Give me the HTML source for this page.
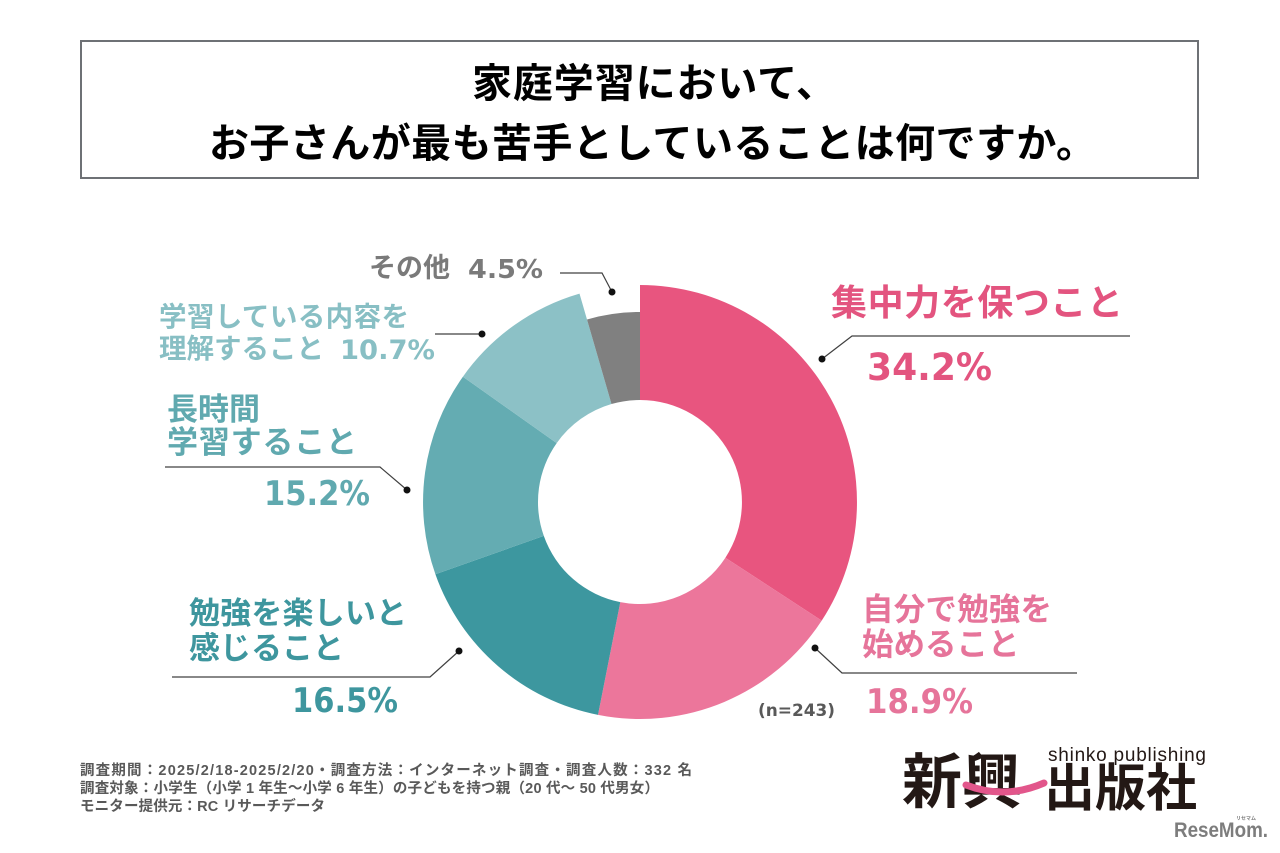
<!DOCTYPE html>
<html><head><meta charset="utf-8"><style>
html,body{margin:0;padding:0;background:#fff;width:1280px;height:853px;overflow:hidden}
svg{display:block}
.cjk{font-family:"Liberation Sans","Noto Sans CJK JP",sans-serif;font-weight:700}
.num{font-family:"DejaVu Sans","Liberation Sans",sans-serif;font-weight:700}
</style></head><body>
<svg width="1280" height="853" viewBox="0 0 1280 853" xmlns="http://www.w3.org/2000/svg">
<rect x="0" y="0" width="1280" height="853" fill="#fff"/>
<!-- title box -->
<rect x="81" y="41" width="1117" height="137" fill="#fff" stroke="#6e7175" stroke-width="2"/>
<text class="cjk" x="472" y="97" font-size="40" fill="#000" textLength="364" lengthAdjust="spacing">家庭学習において、</text>
<text class="cjk" x="209" y="157" font-size="40" fill="#000" textLength="887" lengthAdjust="spacing">お子さんが最も苦手としていることは何ですか。</text>

<!-- donut -->
<path d="M640,285 A217,217 0 0 1 821.7,620.6 L725.4,557.7 A102,102 0 0 0 640,400 Z" fill="#E8557F"/>
<path d="M821.7,620.6 A217,217 0 0 1 598.0,714.9 L620.3,602.1 A102,102 0 0 0 725.4,557.7 Z" fill="#EC769B"/>
<path d="M598.0,714.9 A217,217 0 0 1 435.4,574.2 L543.8,535.9 A102,102 0 0 0 620.3,602.1 Z" fill="#3D979F"/>
<path d="M435.4,574.2 A217,217 0 0 1 462.9,376.7 L556.7,443.1 A102,102 0 0 0 543.8,535.9 Z" fill="#64ACB2"/>
<path d="M462.9,376.7 A217,217 0 0 1 579.5,293.6 L611.5,404.0 A102,102 0 0 0 556.7,443.1 Z" fill="#8CC1C6"/>
<path d="M587.0,319.5 A190,190 0 0 1 640,312 L640,400 A102,102 0 0 0 611.5,404.0 Z" fill="#808080"/>

<!-- leader lines -->
<g stroke="#404040" stroke-width="1.2" fill="none">
<polyline points="822,359 852,336 1130,336"/>
<polyline points="815,648 842,673 1077,673"/>
<polyline points="459,651 430,677 172,677"/>
<polyline points="407,490 380,467 165,467"/>
<polyline points="482,334 435,334"/>
<polyline points="612,292 602,273 560,273"/>
</g>
<g fill="#111">
<circle cx="822" cy="359" r="3.5"/>
<circle cx="815" cy="648" r="3.5"/>
<circle cx="459" cy="651" r="3.5"/>
<circle cx="407" cy="490" r="3.5"/>
<circle cx="482" cy="334" r="3.5"/>
<circle cx="612" cy="292" r="3.5"/>
</g>

<!-- labels -->
<text class="cjk" x="831" y="315" font-size="36" fill="#E3547F" textLength="292" lengthAdjust="spacing">集中力を保つこと</text>
<text class="num" x="867" y="380" font-size="37" fill="#E3547F" textLength="125" lengthAdjust="spacingAndGlyphs">34.2%</text>

<text class="cjk" x="862" y="620" font-size="31.5" fill="#E6749A" textLength="190" lengthAdjust="spacing">自分で勉強を</text>
<text class="cjk" x="862" y="655" font-size="31.5" fill="#E6749A">始めること</text>
<text class="num" x="866" y="713" font-size="34" fill="#E6749A" textLength="107" lengthAdjust="spacingAndGlyphs">18.9%</text>

<text class="cjk" x="189" y="624" font-size="31" fill="#3E969E" textLength="218" lengthAdjust="spacing">勉強を楽しいと</text>
<text class="cjk" x="189" y="659" font-size="31" fill="#3E969E">感じること</text>
<text class="num" x="292" y="712" font-size="34" fill="#3E969E" textLength="106" lengthAdjust="spacingAndGlyphs">16.5%</text>

<text class="cjk" x="167" y="420" font-size="31" fill="#60A9AF">長時間</text>
<text class="cjk" x="167" y="453" font-size="31" fill="#60A9AF" textLength="190" lengthAdjust="spacing">学習すること</text>
<text class="num" x="264" y="505" font-size="34" fill="#60A9AF" textLength="106" lengthAdjust="spacingAndGlyphs">15.2%</text>

<text class="cjk" x="159" y="326" font-size="27.5" fill="#88BFC4" textLength="250" lengthAdjust="spacing">学習している内容を</text>
<text class="cjk" x="159" y="358" font-size="27.5" fill="#88BFC4">理解すること</text>
<text class="num" x="340" y="359" font-size="27" fill="#88BFC4" textLength="95" lengthAdjust="spacingAndGlyphs">10.7%</text>

<text class="cjk" x="369" y="277" font-size="27" fill="#7A7A7A">その他</text>
<text class="num" x="468" y="278" font-size="26" fill="#7A7A7A" textLength="75" lengthAdjust="spacingAndGlyphs">4.5%</text>

<text class="num" x="758" y="716" font-size="17" fill="#595959" textLength="77" lengthAdjust="spacingAndGlyphs">(n=243)</text>

<!-- footer -->
<g class="cjk" font-size="14.5" fill="#595959">
<text x="80" y="775" textLength="612" lengthAdjust="spacing">調査期間：2025/2/18-2025/2/20・調査方法：インターネット調査・調査人数：332 名</text>
<text x="80" y="793" textLength="579" lengthAdjust="spacing">調査対象：小学生（小学 1 年生～小学 6 年生）の子どもを持つ親（20 代～ 50 代男女）</text>
<text x="80" y="811" textLength="245" lengthAdjust="spacing">モニター提供元：RC リサーチデータ</text>
</g>

<!-- logo -->
<text class="cjk" x="902" y="803" font-size="60" fill="#231815">新興</text>
<text class="cjk" x="1044" y="806" font-size="51" fill="#231815">出版社</text>
<path d="M966,785 Q1005,800 1044,783" stroke="#E2568B" stroke-width="7" fill="none" stroke-linecap="round"/>
<text x="1048" y="761" font-family="Liberation Sans, sans-serif" font-size="19" fill="#231815" textLength="158" lengthAdjust="spacing">shinko publishing</text>
<text x="1174" y="837" font-family="Liberation Sans, sans-serif" font-weight="700" font-size="21" fill="#7d7d7d" textLength="94" lengthAdjust="spacingAndGlyphs">ReseMom.</text>
<text class="cjk" x="1236" y="820" font-size="5" fill="#7d7d7d">リセマム</text>
</svg>
</body></html>
